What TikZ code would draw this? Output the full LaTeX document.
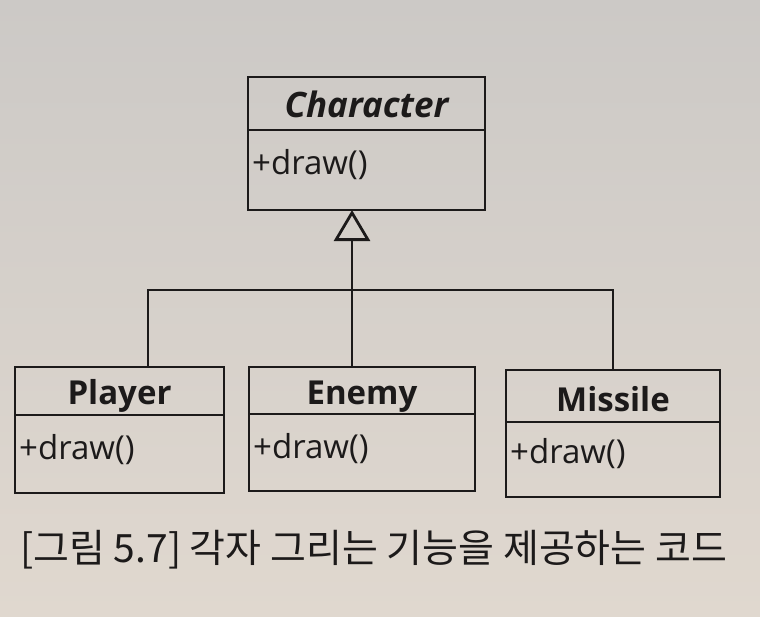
\documentclass[tikz,border=0pt]{standalone}
\usepackage{fontspec}
\setmainfont{Open Sans}
\newfontfamily\krfont{Noto Sans CJK KR}
\usetikzlibrary{arrows.meta}
\definecolor{ink}{RGB}{28,26,26}
\definecolor{bgtop}{RGB}{204,201,198}
\definecolor{bgbot}{RGB}{224,216,207}
\tikzset{
  x=1pt, y=-1pt,
  umlline/.style={draw=ink, line width=2.8pt},
  namebox/.style={umlline, rectangle, inner sep=0pt, outer sep=0pt, anchor=north west, text=ink,
    font=\fontsize{33}{36}\selectfont\bfseries},
  nametext/.style={text=ink, font=\fontsize{33}{36}\selectfont\bfseries, inner sep=0pt},
  bodybox/.style={umlline, rectangle, inner sep=0pt, outer sep=0pt, anchor=north west},
  methtext/.style={anchor=west, inner sep=0pt, text=ink, font=\fontsize{33}{36}\selectfont},
  conn/.style={draw=ink, line width=2.8pt},
  inherit/.style={conn, -{Triangle[open, length=31pt, width=36pt, line width=2.8pt]}},
}
\begin{document}
\begin{tikzpicture}
\useasboundingbox (0,0) rectangle (760,616);
\shade[top color=bgtop, bottom color=bgbot] (0,0) rectangle (760,616);

% Character
\node[namebox, minimum width=237pt, minimum height=53pt] (charN) at (248,77) {};
\node[nametext, font=\fontsize{35}{38}\selectfont\bfseries\itshape] (charT) at ([yshift=-1pt]charN.center) {Character};
\node[bodybox, minimum width=237pt, minimum height=80pt] (charB) at (charN.south west) {};
\node[methtext] (charM) at ([xshift=4pt,yshift=-35pt]charB.north west) {+draw()};

% Player
\node[namebox, minimum width=209pt, minimum height=48pt] (playerN) at (15,367) {};
\node[nametext] (playerT) at ([yshift=-5pt]playerN.center) {Player};
\node[bodybox, minimum width=209pt, minimum height=78pt] (playerB) at (playerN.south west) {};
\node[methtext] (playerM) at ([xshift=4pt,yshift=-35pt]playerB.north west) {+draw()};

% Enemy
\node[namebox, minimum width=226pt, minimum height=47pt] (enemyN) at (249,367) {};
\node[nametext] (enemyT) at ([yshift=-6pt]enemyN.center) {Enemy};
\node[bodybox, minimum width=226pt, minimum height=77pt] (enemyB) at (enemyN.south west) {};
\node[methtext] (enemyM) at ([xshift=4pt,yshift=-35pt]enemyB.north west) {+draw()};

% Missile
\node[namebox, minimum width=214pt, minimum height=52pt] (missileN) at (506,370) {};
\node[nametext] (missileT) at ([yshift=-3pt]missileN.center) {Missile};
\node[bodybox, minimum width=214pt, minimum height=75pt] (missileB) at (missileN.south west) {};
\node[methtext] (missileM) at ([xshift=4pt,yshift=-32pt]missileB.north west) {+draw()};

% connectors
\coordinate (junc) at (352,290);
\draw[inherit] (junc) -- (junc |- charB.south);
\draw[conn] (junc) -- (junc |- enemyN.north);
\draw[conn] (junc) -| ([xshift=28.5pt]playerN.north);
\draw[conn] (junc) -| (missileN.north);

% caption
\node[anchor=west, inner sep=0pt, text=ink, font=\krfont\fontsize{39}{44}\selectfont] (cap) at (20,550) {[그림 5.7] 각자 그리는 기능을 제공하는 코드};
\end{tikzpicture}
\end{document}
